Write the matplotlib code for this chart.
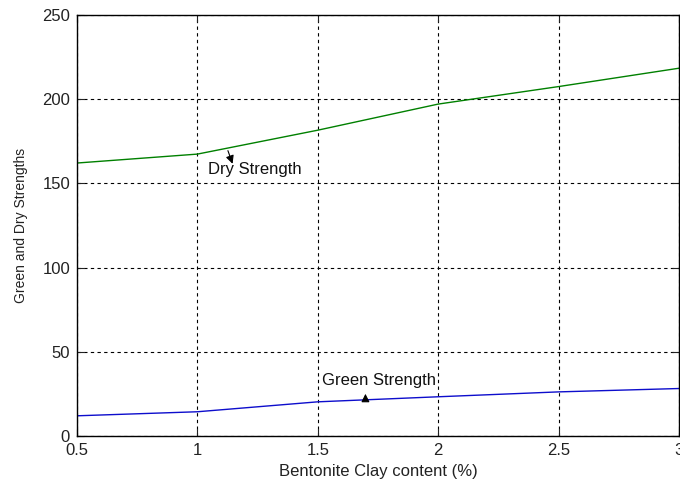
import matplotlib
matplotlib.use("Agg")
import matplotlib.pyplot as plt

plt.rcParams['font.family'] = ['Liberation Sans', 'DejaVu Sans']

clay = [0.5, 1.0, 1.5, 2.0, 2.5, 3.0]
dry_strength = [162.1, 167.4, 181.6, 197.1, 207.5, 218.4]
green_strength = [12.0, 14.4, 20.3, 23.3, 26.2, 28.2]
xticks = [0.5, 1, 1.5, 2, 2.5, 3]
xticklabels = ['0.5', '1', '1.5', '2', '2.5', '3']
yticks = [0, 50, 100, 150, 200, 250]

fig = plt.figure(figsize=(6.8, 4.87), dpi=100)
ax = fig.add_axes([0.1132, 0.1047, 0.8853, 0.8645])

ax.plot(clay, dry_strength, color=(0.0, 0.5, 0.0), lw=1.0)
ax.plot(clay, green_strength, color=(0.05, 0.05, 0.8), lw=1.0)

ax.set_xlim(0.5, 3)
ax.set_ylim(0, 250)
ax.set_xticks(xticks)
ax.set_xticklabels(xticklabels)
ax.set_yticks(yticks)
ax.grid(True, color='black', linestyle=(0, (3, 3)), lw=0.8)
ax.tick_params(direction='in', length=5, top=True, right=True, labelsize=12, pad=5, colors='#222222')
for s in ax.spines.values():
    s.set_linewidth(1.0)
    s.set_color('black')

ax.set_xlabel('Bentonite Clay content (%)', fontsize=12, labelpad=4, color='#222222')
ax.set_ylabel('Green and Dry Strengths', fontsize=10, labelpad=10, color='#222222')

ax.annotate('', xy=(1.15, 160.1), xytext=(1.123, 171.0),
            arrowprops=dict(arrowstyle='-|>', color='black', lw=0.8, mutation_scale=12))
ax.text(1.045, 158.2, 'Dry Strength', fontsize=12, va='center', ha='left', color='#111111')

ax.annotate('', xy=(1.698, 26.7), xytext=(1.698, 20.7),
            arrowprops=dict(arrowstyle='-|>', color='black', lw=0.8, mutation_scale=12))
ax.text(1.518, 33.2, 'Green Strength', fontsize=12, va='center', ha='left', color='#111111')

fig.savefig('out.png', dpi=100)
